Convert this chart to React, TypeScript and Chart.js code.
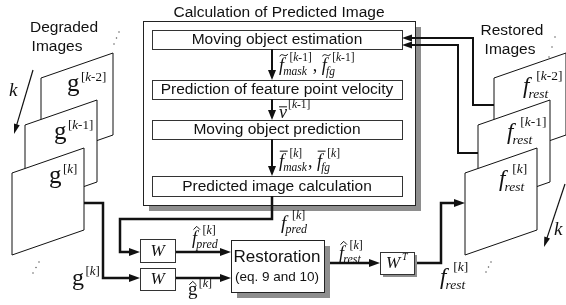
import { useEffect, useRef } from "react";
import { Chart, registerables } from "chart.js";

Chart.register(...registerables);

const W = 566;
const H = 305;

// ---------------- content ----------------
const panelTitle = "Calculation of Predicted Image";
const stageLabels = [
  "Moving object estimation",
  "Prediction of feature point velocity",
  "Moving object prediction",
  "Predicted image calculation",
];
const degradedCaption = ["Degraded", "Images"];
const restoredCaption = ["Restored", "Images"];
const frameIndices = ["[k-2]", "[k-1]", "[k]"];
const restorationLines = ["Restoration", "(eq. 9 and 10)"];
const transformGlyph = "W";
const transposeSup = "T";
const timeAxisLabel = "k";

type MathItem = { base: string; accent?: "tilde" | "bar" | "hat"; sup?: string; sub?: string };

const stage1Output: MathItem[] = [
  { base: "f", accent: "tilde", sup: "[k-1]", sub: "mask" },
  { base: "f", accent: "tilde", sup: "[k-1]", sub: "fg" },
];
const stage2Output: MathItem[] = [{ base: "v", accent: "bar", sup: "[k-1]" }];
const stage3Output: MathItem[] = [
  { base: "f", accent: "bar", sup: "[k]", sub: "mask" },
  { base: "f", accent: "bar", sup: "[k]", sub: "fg" },
];
const predictedOutput: MathItem[] = [{ base: "f", sup: "[k]", sub: "pred" }];
const predictedHat: MathItem[] = [{ base: "f", accent: "hat", sup: "[k]", sub: "pred" }];
const degradedHat: MathItem[] = [{ base: "g", accent: "hat", sup: "[k]" }];
const degradedInput: MathItem[] = [{ base: "g", sup: "[k]" }];
const restoredHat: MathItem[] = [{ base: "f", accent: "hat", sup: "[k]", sub: "rest" }];
const restoredOutput: MathItem[] = [{ base: "f", sup: "[k]", sub: "rest" }];

// ---------------- layout (diagram units) ----------------
const SANS = '"Liberation Sans", Arial, sans-serif';
const SERIF = '"Liberation Serif", "Times New Roman", serif';
const INK = "#111111";
const FRAME = "#3c3c3c";
const SHADOW = "#8e8e8e";

const PANEL = { x0: 143, y0: 21, x1: 415, y1: 205, sh: 6 };
const TITLE_Y = 13;
const STAGE_X = [152, 402];
const STAGE_Y = [
  [30, 49],
  [80, 99],
  [120, 139],
  [176, 196],
];
const FLOW_X = 272;
const PAGE = { w: 72, h: 82, skew: 25 };
const LEFT_PAGES = [
  [41, 78],
  [25, 125],
  [12, 173],
];
const RIGHT_PAGES = [
  [494, 78],
  [478, 125],
  [465, 173],
];
const LEFT_PAGE_LABELS = [
  [67, 91],
  [54, 139],
  [49, 183],
];
const RIGHT_PAGE_LABELS = [
  [523, 93],
  [507, 139],
  [499, 186],
];

const diagramPlugin = {
  id: "diagram",
  beforeDraw(chart: any) {
    const ctx = chart.ctx as CanvasRenderingContext2D;
    ctx.save();
    ctx.fillStyle = "#ffffff";
    ctx.fillRect(0, 0, chart.width, chart.height);
    ctx.restore();
  },
  afterDraw(chart: any) {
    const ctx = chart.ctx as CanvasRenderingContext2D;
    const xs = chart.scales.x;
    const ys = chart.scales.y;
    const X = (v: number) => xs.getPixelForValue(v);
    const Y = (v: number) => ys.getPixelForValue(v);
    const cx = (v: number) => Math.round(X(v)) + 0.5;
    const cy = (v: number) => Math.round(Y(v)) + 0.5;

    ctx.save();
    ctx.textBaseline = "alphabetic";

    const rect = (x0: number, y0: number, x1: number, y1: number, sh: number, stroke = FRAME, lw = 1) => {
      if (sh > 0) {
        ctx.fillStyle = SHADOW;
        ctx.fillRect(X(x0 + sh), Y(y0 + sh), X(x1 + sh) - X(x0 + sh), Y(y1 + sh) - Y(y0 + sh));
      }
      ctx.fillStyle = "#fff";
      ctx.fillRect(X(x0), Y(y0), X(x1) - X(x0), Y(y1) - Y(y0));
      ctx.strokeStyle = stroke;
      ctx.lineWidth = lw;
      ctx.strokeRect(cx(x0), cy(y0), Math.round(X(x1) - X(x0)), Math.round(Y(y1) - Y(y0)));
    };

    const text = (s: string, x: number, y: number, font: string, align: CanvasTextAlign = "center") => {
      ctx.font = font;
      ctx.fillStyle = INK;
      ctx.textAlign = align;
      ctx.textBaseline = "middle";
      ctx.fillText(s, X(x), Y(y));
      ctx.textBaseline = "alphabetic";
      ctx.textAlign = "left";
    };

    const arrowHead = (x0: number, y0: number, x1: number, y1: number, len: number, wid: number) => {
      const ang = Math.atan2(Y(y1) - Y(y0), X(x1) - X(x0));
      const tx = X(x1);
      const ty = Y(y1);
      ctx.fillStyle = INK;
      ctx.beginPath();
      ctx.moveTo(tx, ty);
      ctx.lineTo(tx - len * Math.cos(ang) + (wid / 2) * Math.sin(ang), ty - len * Math.sin(ang) - (wid / 2) * Math.cos(ang));
      ctx.lineTo(tx - len * Math.cos(ang) - (wid / 2) * Math.sin(ang), ty - len * Math.sin(ang) + (wid / 2) * Math.cos(ang));
      ctx.closePath();
      ctx.fill();
    };

    const poly = (pts: number[][], lw: number, arrow: boolean, len = 10, wid = 7) => {
      ctx.strokeStyle = INK;
      ctx.lineWidth = lw;
      ctx.lineJoin = "miter";
      ctx.lineCap = "butt";
      ctx.beginPath();
      pts.forEach((p, i) => {
        let ex = p[0];
        let ey = p[1];
        if (arrow && i === pts.length - 1) {
          const q = pts[i - 1];
          const d = Math.hypot(p[0] - q[0], p[1] - q[1]);
          ex = p[0] - ((p[0] - q[0]) / d) * (len - 2);
          ey = p[1] - ((p[1] - q[1]) / d) * (len - 2);
        }
        if (i === 0) ctx.moveTo(X(ex), Y(ey));
        else ctx.lineTo(X(ex), Y(ey));
      });
      ctx.stroke();
      if (arrow) {
        const a = pts[pts.length - 2];
        const b = pts[pts.length - 1];
        arrowHead(a[0], a[1], b[0], b[1], len, wid);
      }
    };

    const isItalic = (b: string) => b !== "g";

    const drawMath = (items: MathItem[], x: number, y: number, size: number, small: number) => {
      let px = x;
      items.forEach((m, idx) => {
        const it = isItalic(m.base);
        ctx.font = `${it ? "italic " : ""}${size}px ${SERIF}`;
        ctx.fillStyle = INK;
        ctx.textAlign = "left";
        ctx.fillText(m.base, X(px), Y(y));
        const bw = ctx.measureText(m.base).width;
        let end = px + bw;
        if (m.accent) {
          const isF = m.base === "f";
          const acx = px + (isF ? bw * 0.95 : bw * 0.5);
          const acy = y - (isF ? size * 0.88 : size * 0.62);
          const aw = size * 0.44;
          ctx.strokeStyle = INK;
          ctx.lineWidth = 1;
          ctx.beginPath();
          if (m.accent === "bar") {
            ctx.moveTo(X(acx - aw / 2), Y(acy));
            ctx.lineTo(X(acx + aw / 2), Y(acy));
          } else if (m.accent === "tilde") {
            ctx.moveTo(X(acx - aw / 2), Y(acy + 1.2));
            ctx.bezierCurveTo(X(acx - aw / 4), Y(acy - 3.5), X(acx + aw / 4), Y(acy + 3.5), X(acx + aw / 2), Y(acy - 1.2));
          } else {
            ctx.moveTo(X(acx - aw / 2.4), Y(acy + 1.5));
            ctx.lineTo(X(acx), Y(acy - 1.8));
            ctx.lineTo(X(acx + aw / 2.4), Y(acy + 1.5));
          }
          ctx.stroke();
        }
        if (m.sub) {
          ctx.font = `italic ${small}px ${SERIF}`;
          const sx = px + (m.base === "f" ? bw * 0.85 : bw);
          ctx.fillText(m.sub, X(sx), Y(y + size * 0.2));
          end = Math.max(end, sx + ctx.measureText(m.sub).width);
        }
        if (m.sup) {
          let sx = px + bw + (m.base === "f" ? size * 0.3 : size * 0.06);
          const sy = y - (m.base === "g" ? size * 0.42 : size * 0.55);
          for (const ch of m.sup) {
            const chIt = /[a-z]/i.test(ch);
            ctx.font = `${chIt ? "italic " : ""}${small}px ${SERIF}`;
            ctx.fillText(ch, X(sx), Y(sy));
            sx += ctx.measureText(ch).width;
          }
          end = Math.max(end, sx);
        }
        px = end;
        if (idx < items.length - 1) {
          ctx.font = `${size}px ${SERIF}`;
          ctx.fillText(",", X(px + 1), Y(y));
          px += ctx.measureText(", ").width + 1;
        }
      });
    };

    const dots = (pts: number[][]) => {
      ctx.fillStyle = "#555";
      pts.forEach((p) => {
        ctx.beginPath();
        ctx.arc(X(p[0]), Y(p[1]), 0.75, 0, Math.PI * 2);
        ctx.fill();
      });
    };

    const page = (left: number, top: number) => {
      ctx.fillStyle = "#fff";
      ctx.strokeStyle = INK;
      ctx.lineWidth = 1;
      ctx.beginPath();
      ctx.moveTo(X(left), Y(top));
      ctx.lineTo(X(left + PAGE.w), Y(top - PAGE.skew));
      ctx.lineTo(X(left + PAGE.w), Y(top - PAGE.skew + PAGE.h));
      ctx.lineTo(X(left), Y(top + PAGE.h));
      ctx.closePath();
      ctx.fill();
      ctx.stroke();
    };

    // ----- main panel -----
    text(panelTitle, (PANEL.x0 + PANEL.x1) / 2, TITLE_Y, `15.5px ${SANS}`);
    rect(PANEL.x0, PANEL.y0, PANEL.x1, PANEL.y1, PANEL.sh, "#222");
    stageLabels.forEach((lab, i) => {
      rect(STAGE_X[0], STAGE_Y[i][0], STAGE_X[1], STAGE_Y[i][1], 0, "#333");
      text(lab, (STAGE_X[0] + STAGE_X[1]) / 2, (STAGE_Y[i][0] + STAGE_Y[i][1]) / 2 + 0.5, `15.5px ${SANS}`);
    });
    for (let i = 0; i < 3; i++) {
      poly([[FLOW_X, STAGE_Y[i][1]], [FLOW_X, STAGE_Y[i + 1][0]]], 2, true, 10, 8);
    }
    drawMath(stage1Output, 279, 71, 18, 11.5);
    drawMath(stage2Output, 279, 118, 18, 11.5);
    drawMath(stage3Output, 279, 167, 18, 11.5);

    // ----- degraded frames -----
    degradedCaption.forEach((s, i) => text(s, i === 0 ? 64 : 57, 28 + i * 19, `15.5px ${SANS}`));
    LEFT_PAGES.forEach((p) => page(p[0], p[1]));
    LEFT_PAGES.forEach((_, i) =>
      drawMath([{ base: "g", sup: frameIndices[i] }], LEFT_PAGE_LABELS[i][0], LEFT_PAGE_LABELS[i][1], 25, 13)
    );
    poly([[33, 70], [14, 134]], 1.2, true, 10, 6);
    ctx.font = `italic 19px ${SERIF}`;
    ctx.fillStyle = INK;
    ctx.fillText(timeAxisLabel, X(9), Y(96));
    dots([[114, 44], [116.5, 38], [119, 32]]);
    dots([[33, 273], [36, 267.5], [39, 262]]);

    // ----- restored frames -----
    restoredCaption.forEach((s, i) => text(s, i === 0 ? 512 : 510, 31 + i * 19, `15.5px ${SANS}`));
    RIGHT_PAGES.forEach((p) => page(p[0], p[1]));
    RIGHT_PAGES.forEach((_, i) =>
      drawMath([{ base: "f", sup: frameIndices[i], sub: "rest" }], RIGHT_PAGE_LABELS[i][0], RIGHT_PAGE_LABELS[i][1], 23, 13.5)
    );
    poly([[565, 184], [544, 247]], 1.2, true, 10, 6);
    ctx.font = `italic 19px ${SERIF}`;
    ctx.fillStyle = INK;
    ctx.fillText(timeAxisLabel, X(554), Y(235));
    dots([[549, 57], [552, 47], [555, 37]]);
    dots([[486, 272], [488.5, 267], [491, 262]]);

    // ----- feedback lines -----
    poly([[494, 105], [473, 105], [473, 38], [402, 38]], 2, true, 10, 7);
    poly([[478, 153], [458, 153], [458, 45], [402, 45]], 2, true, 10, 7);

    // ----- lower pipeline -----
    poly([[FLOW_X, 196], [FLOW_X, 219], [120, 219], [120, 252], [140, 252]], 2.5, true, 11, 8);
    poly([[84, 203], [103, 203], [103, 278], [140, 278]], 2.5, true, 11, 8);
    poly([[175, 252], [231, 252]], 2.5, true, 11, 8);
    poly([[175, 278], [231, 278]], 2.5, true, 11, 8);
    poly([[324, 263], [380, 263]], 2.5, true, 11, 8);
    poly([[414, 263], [441, 263], [441, 203], [465, 203]], 2.5, true, 11, 8);

    rect(140, 239, 175, 262, 0, "#333");
    rect(140, 268, 175, 290, 0, "#333");
    [250.5, 279].forEach((yy) => {
      ctx.font = `italic 17px ${SERIF}`;
      ctx.fillStyle = INK;
      ctx.textAlign = "center";
      ctx.textBaseline = "middle";
      ctx.fillText(transformGlyph, X(157.5), Y(yy + 1));
      ctx.textAlign = "left";
      ctx.textBaseline = "alphabetic";
    });

    rect(231, 240, 324, 292, 6, "#222");
    text(restorationLines[0], 277, 257, `17px ${SANS}`);
    text(restorationLines[1], 277, 277, `13.5px ${SANS}`);

    rect(380, 252, 414, 274, 3, "#333");
    ctx.font = `italic 17px ${SERIF}`;
    ctx.fillStyle = INK;
    ctx.textBaseline = "middle";
    ctx.fillText(transformGlyph, X(386), Y(264));
    ctx.font = `italic 10px ${SERIF}`;
    ctx.fillText(transposeSup, X(402), Y(257));
    ctx.textBaseline = "alphabetic";

    drawMath(predictedOutput, 281, 229, 19, 12);
    drawMath(predictedHat, 192, 244, 18, 12);
    drawMath(degradedHat, 188, 295, 19, 12);
    drawMath(degradedInput, 72, 285, 24, 13);
    drawMath(restoredHat, 339, 259, 18, 12);
    drawMath(restoredOutput, 440, 284, 23, 13.5);

    ctx.restore();
  },
};

export default function App() {
  const ref = useRef<HTMLCanvasElement>(null);
  useEffect(() => {
    const canvas = ref.current;
    if (!canvas) return;
    const chart = new Chart(canvas, {
      type: "scatter",
      data: { datasets: [{ data: [], pointRadius: 0 }] },
      options: {
        animation: false,
        responsive: false,
        devicePixelRatio: 1,
        layout: { padding: 0 },
        scales: {
          x: { type: "linear", min: 0, max: W, display: false },
          y: { type: "linear", min: 0, max: H, reverse: true, display: false },
        },
        plugins: { legend: { display: false }, tooltip: { enabled: false } },
      },
      plugins: [diagramPlugin],
    });
    return () => chart.destroy();
  }, []);
  return (
    <div style={{ position: "fixed", left: 0, top: 0, width: W, height: H, background: "#fff" }}>
      <canvas ref={ref} width={W} height={H} style={{ display: "block" }} />
    </div>
  );
}
